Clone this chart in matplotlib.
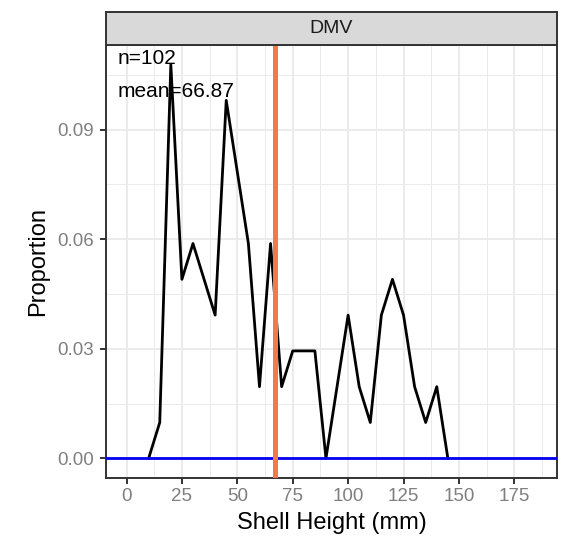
import matplotlib
matplotlib.use("Agg")
import matplotlib.pyplot as plt
import numpy as np

plt.rcParams['font.family'] = ['Liberation Sans', 'DejaVu Sans']

# Data
shell_height = [10, 15, 20, 25, 30, 35, 40, 45, 50, 55, 60, 65, 70, 75, 80, 85, 90,
                95, 100, 105, 110, 115, 120, 125, 130, 135, 140, 145]
counts = [0, 1, 11, 5, 6, 5, 4, 10, 8, 6, 2, 6, 2, 3, 3, 3, 0,
          2, 4, 2, 1, 4, 5, 4, 2, 1, 2, 0]
n_total = 102
proportion = [c / n_total for c in counts]
mean_val = 66.87
panel_label = "DMV"
x_ticks = [0, 25, 50, 75, 100, 125, 150, 175]
y_ticks = [0.00, 0.03, 0.06, 0.09]

fig = plt.figure(figsize=(5.7, 5.38), dpi=100)
W, H = 570, 538
left, right, bottom, top = 106, 557, 478, 45
strip_top = 12
ax = fig.add_axes([left / W, 1 - bottom / H, (right - left) / W, (bottom - top) / H])
sax = fig.add_axes([left / W, 1 - top / H, (right - left) / W, (top - strip_top) / H])

ax.set_xlim(-9.25, 194.25)
ax.set_ylim(-0.0054, 0.1132)

# grid
grid_c = '#EBEBEB'
for xv in np.arange(-12.5, 200, 25):
    ax.axvline(xv, color=grid_c, lw=0.7, zorder=0)
for xv in x_ticks:
    ax.axvline(xv, color=grid_c, lw=1.4, zorder=0)
for yv in [0.015, 0.045, 0.075, 0.105]:
    ax.axhline(yv, color=grid_c, lw=0.7, zorder=0)
for yv in y_ticks:
    ax.axhline(yv, color=grid_c, lw=1.4, zorder=0)

ax.plot(shell_height, proportion, color='black', lw=2.0, zorder=3)
ax.axhline(0, color='#0000EE', lw=2.0, zorder=4)
ax.axvline(mean_val, color='#F4784A', lw=3.6, zorder=5)

ax.text(-4.2, 0.1080, f"n={n_total}", fontsize=15, ha='left', va='baseline', color='black', zorder=6)
ax.text(-4.2, 0.0990, f"mean={mean_val}", fontsize=15, ha='left', va='baseline', color='black', zorder=6)

ax.set_xticks(x_ticks)
ax.set_xticklabels([str(v) for v in x_ticks])
ax.set_yticks(y_ticks)
ax.set_yticklabels([f"{v:.2f}" for v in y_ticks])
ax.tick_params(axis='both', colors='#333333', labelcolor='#7F7F7F', labelsize=13.5,
               length=4, width=1.4, direction='out')
ax.tick_params(axis='y', pad=4.5)
ax.tick_params(axis='x', pad=3.5)
for sp in ax.spines.values():
    sp.set_color('#333333')
    sp.set_linewidth(1.4)

ax.set_xlabel("Shell Height (mm)", fontsize=17, color='black', labelpad=5)
ax.set_ylabel("Proportion", fontsize=17, color='black', labelpad=6)

sax.set_facecolor('#D9D9D9')
sax.set_xticks([])
sax.set_yticks([])
for sp in sax.spines.values():
    sp.set_color('#333333')
    sp.set_linewidth(1.4)
sax.text(0.5, 0.5, panel_label, transform=sax.transAxes, ha='center', va='center',
         fontsize=14, color='#1A1A1A')

fig.savefig("out.png", dpi=100)
